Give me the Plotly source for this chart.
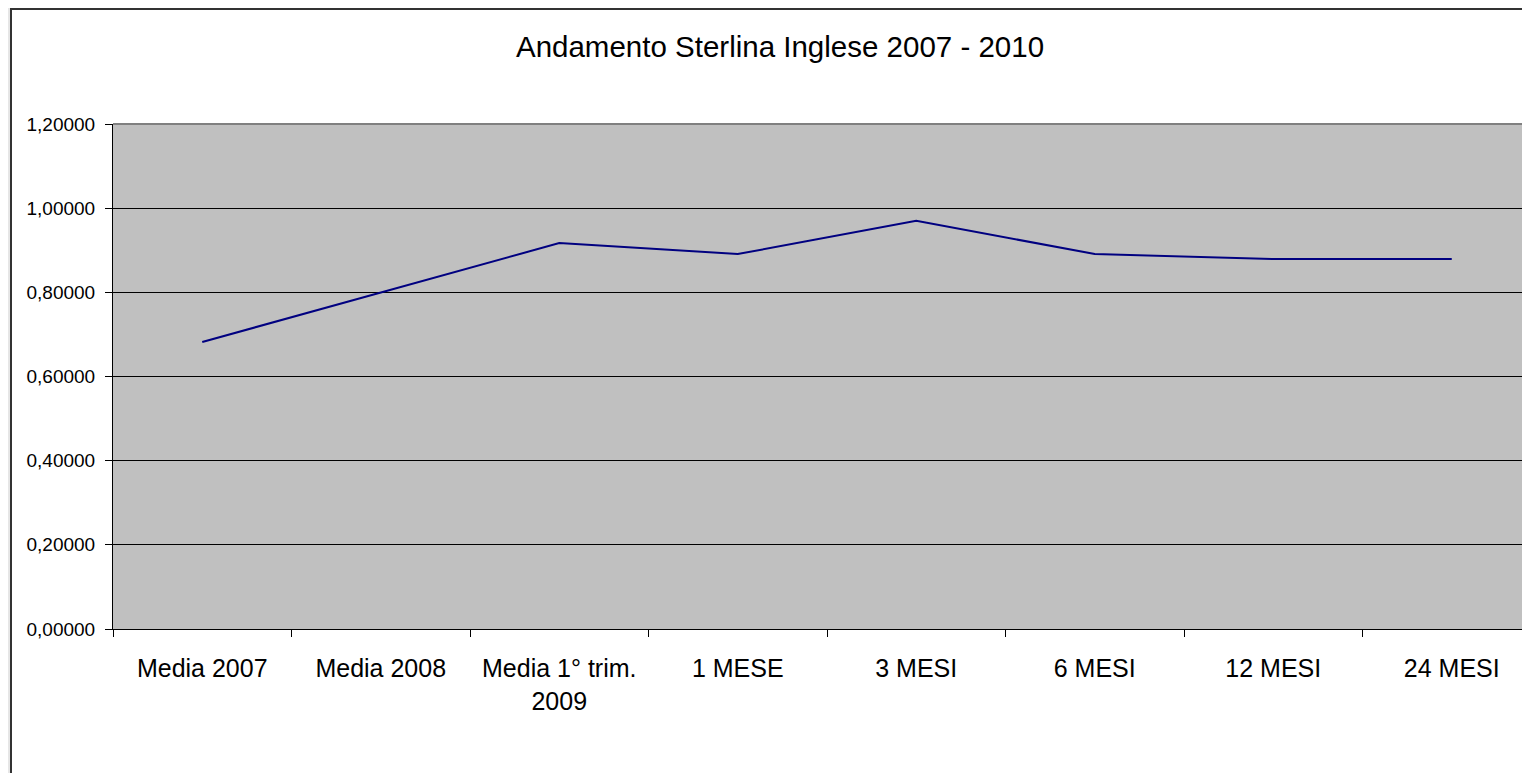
import plotly.graph_objects as go

categories = ["Media 2007", "Media 2008", "Media 1° trim.<br>2009", "1 MESE",
              "3 MESI", "6 MESI", "12 MESI", "24 MESI"]
values = [0.682, 0.800, 0.917, 0.891, 0.970, 0.891, 0.879, 0.879]
y_ticks = [0.0, 0.2, 0.4, 0.6, 0.8, 1.0, 1.2]

# the page body adds an 8px offset; draw in shifted page coordinates
OFF = 8
W, H = 1530 - OFF, 773 - OFF
L = 113 - OFF
T = 124 - OFF
BOT = 629 - OFF
R = 0
B = H - BOT
pw, ph = W - L - R, H - T - B

def px_x(p):
    return (p - OFF - L) / pw

def px_y(p):
    return (H - B - (p - OFF)) / ph

FONT = "Liberation Sans, Arial, sans-serif"

fig = go.Figure()
fig.add_trace(go.Scatter(
    x=categories, y=values, mode="lines",
    line=dict(color="#000080", width=2),
    hoverinfo="skip", showlegend=False,
))

fig.update_layout(
    width=W, height=H,
    margin=dict(l=L, r=R, t=T, b=B, pad=0),
    paper_bgcolor="#e6e6e6",
    plot_bgcolor="rgba(0,0,0,0)",
    separators=",.",
    font=dict(family=FONT, color="#000000"),
    title=dict(text="Andamento Sterlina Inglese 2007 - 2010",
               font=dict(size=29.5, family=FONT, color="#000000"),
               x=(780 - OFF) / W, xref="container", xanchor="center",
               y=1 - (47 - OFF) / H, yref="container", yanchor="middle"),
    shapes=[
        dict(type="rect", xref="paper", yref="paper",
             x0=px_x(11), x1=px_x(1600), y0=px_y(900), y1=px_y(9),
             fillcolor="#ffffff", line=dict(color="#333333", width=2), layer="below"),
        dict(type="rect", xref="paper", yref="paper",
             x0=0, x1=1, y0=0, y1=1,
             fillcolor="#c0c0c0", line=dict(width=0), layer="below"),
        dict(type="line", xref="paper", yref="paper",
             x0=0, x1=1, y0=1, y1=1,
             line=dict(color="#808080", width=2), layer="below"),
    ],
)

fig.update_xaxes(
    type="category", range=[-0.5, -0.5 + 8 * pw / 1428],
    showgrid=False, showline=True, linecolor="#000000", linewidth=1,
    ticks="outside", tickson="boundaries", ticklen=7, tickcolor="#000000",
    tickfont=dict(size=25, family=FONT, color="#000000"),
    ticklabelstandoff=17, zeroline=False,
)
fig.update_yaxes(
    range=[0, 1.2], tickvals=y_ticks, tickformat=".5f",
    showgrid=True, gridcolor="#000000", gridwidth=1,
    showline=True, linecolor="#000000", linewidth=1,
    ticks="outside", ticklen=7, tickcolor="#000000",
    tickfont=dict(size=19, family=FONT, color="#000000"),
    ticklabelstandoff=6, zeroline=False,
)

fig.write_html("out.html")
